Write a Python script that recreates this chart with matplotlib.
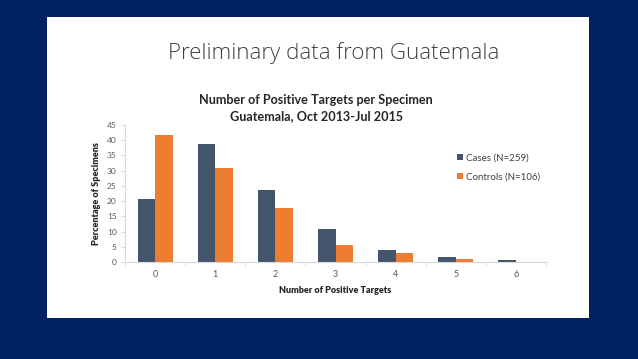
import matplotlib
matplotlib.use("Agg")
import matplotlib.pyplot as plt
import numpy as np
from matplotlib.patches import Rectangle

categories = ["0", "1", "2", "3", "4", "5", "6"]
cases = [20.8, 38.9, 23.5, 10.7, 4.1, 1.5, 0.6]
controls = [41.6, 31.0, 17.9, 5.6, 3.0, 0.9, 0.0]
series_names = ["Cases (N=259)", "Controls (N=106)"]
y_ticks = [0, 5, 10, 15, 20, 25, 30, 35, 40, 45]

NAVY = "#00215F"
C_CASES = "#44546A"
C_CTRL = "#ED7D31"
TXT = "#404040"

W, H = 638, 359
fig = plt.figure(figsize=(W / 100, H / 100), dpi=100)
fig.patch.set_facecolor(NAVY)

# white slide panel
fig.add_artist(Rectangle((47 / W, 1 - 318 / H), (589 - 47) / W, (318 - 17) / H,
                         transform=fig.transFigure, facecolor="white", edgecolor="none", zorder=0))

fig.text(334 / W, 1 - 53 / H, "Preliminary data from Guatemala", ha="center", va="center",
         fontsize=16, family="Open Sans", fontweight="light", color=TXT)

fig.text(316 / W, 1 - 100 / H, "Number of Positive Targets per Specimen", ha="center", va="center",
         fontsize=9.1, family="Lato", fontweight="bold", color="#262626")
fig.text(316 / W, 1 - 116 / H, "Guatemala, Oct 2013-Jul 2015", ha="center", va="center",
         fontsize=9.1, family="Lato", fontweight="bold", color="#262626")

ax = fig.add_axes([125 / W, 1 - 262 / H, (546 - 125) / W, (262 - 125) / H])
ax.set_facecolor("none")
x = np.arange(len(categories))
bw = 0.29
ax.bar(x - bw / 2, cases, width=bw, color=C_CASES, label=series_names[0], zorder=2)
ax.bar(x + bw / 2, controls, width=bw, color=C_CTRL, label=series_names[1], zorder=2)

ax.set_xlim(-0.5, len(categories) - 0.5)
ax.set_ylim(0, 45)
ax.set_yticks(y_ticks)
ax.set_xticks(x)
ax.set_xticklabels(categories)
ax.set_xticks(np.arange(len(categories) + 1) - 0.5, minor=True)
ax.tick_params(axis="x", which="major", length=0, pad=6, labelsize=6.5, labelcolor="#595959")
ax.tick_params(axis="x", which="minor", length=3, color="#d9d9d9", direction="out")
ax.tick_params(axis="y", length=3, color="#d9d9d9", labelsize=6, labelcolor="#595959", pad=3)
for t in ax.get_xticklabels() + ax.get_yticklabels():
    t.set_family("Lato")

for s in ["top", "right"]:
    ax.spines[s].set_visible(False)
ax.spines["left"].set_color("#d9d9d9")
ax.spines["bottom"].set_color("#d9d9d9")

ax.set_ylabel("Percentage of Specimens", fontsize=6.5, family="Lato", fontweight="heavy",
              color="#262626", labelpad=4)
ax.set_xlabel("Number of Positive Targets", fontsize=6.5, family="Lato", fontweight="heavy",
              color="#262626", labelpad=5)

leg = ax.legend(loc="upper left", bbox_to_anchor=(448 / W, 1 - 145 / H), bbox_transform=fig.transFigure,
                frameon=False, prop={"family": "Lato", "size": 7}, labelcolor="#404040",
                handlelength=0.6, handleheight=0.6, handletextpad=0.4, labelspacing=1.0)

fig.savefig("out.png", dpi=100, facecolor=NAVY)
